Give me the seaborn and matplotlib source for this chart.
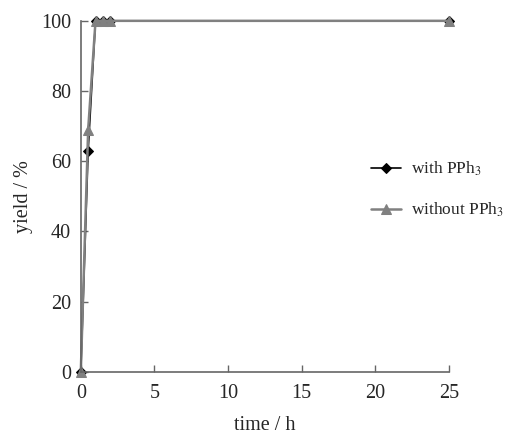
import matplotlib
matplotlib.use("Agg")
import matplotlib.pyplot as plt
import pandas as pd
import seaborn as sns

time_h = [0, 0.5, 1, 1.5, 2, 25]
yield_with = [0, 63, 100, 100, 100, 100]
yield_without = [0, 69, 100, 100, 100, 100]
x_ticks = [0, 5, 10, 15, 20, 25]
y_ticks = [0, 20, 40, 60, 80, 100]

sns.set_style("white")
plt.rcParams["font.family"] = ["Liberation Serif", "DejaVu Serif"]
plt.rcParams["mathtext.fontset"] = "stix"

df = pd.concat([
    pd.DataFrame({"time": time_h, "yield": yield_with, "series": "with"}),
    pd.DataFrame({"time": time_h, "yield": yield_without, "series": "without"}),
])

fig = plt.figure(figsize=(5.05, 4.34), dpi=100)
ax = fig.add_axes([0.160, 0.143, 0.729, 0.809])

sns.lineplot(data=df[df.series == "with"], x="time", y="yield", ax=ax,
             color="black", marker="D", markersize=5, linewidth=1.2,
             markeredgecolor="black", label="with PPh$_3$")
sns.lineplot(data=df[df.series == "without"], x="time", y="yield", ax=ax,
             color="#808080", marker="^", markersize=7, linewidth=1.8,
             markeredgecolor="#808080", label="without PPh$_3$")
for ln in ax.lines:
    ln.set_clip_on(False)

ax.set_xlim(0, 25)
ax.set_ylim(0, 100)
ax.set_xticks(x_ticks)
ax.set_yticks(y_ticks)
ax.tick_params(axis="both", direction="in", length=5, width=1, color="#666666",
               labelsize=14.5, bottom=True, left=True, pad=7)
ax.tick_params(axis="x", pad=9)
ax.set_xlabel("time / h", fontsize=14.5, labelpad=9)
ax.set_ylabel("yield / %", fontsize=14.5, labelpad=6)
for s in ["top", "right"]:
    ax.spines[s].set_visible(False)
for s in ["left", "bottom"]:
    ax.spines[s].set_color("#666666")
    ax.spines[s].set_linewidth(1.2)

leg = ax.legend(loc="center left", bbox_to_anchor=(0.745, 0.52), frameon=False,
                fontsize=12.5, handlelength=1.75, labelspacing=1.3, handletextpad=0.6)

fig.savefig("out.png", dpi=100)
